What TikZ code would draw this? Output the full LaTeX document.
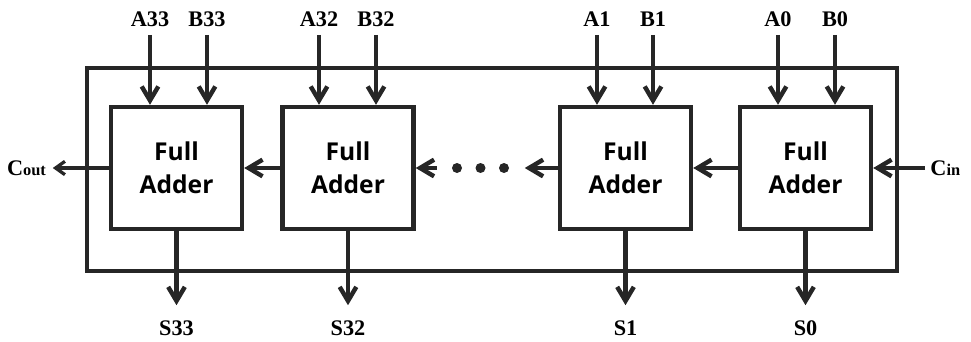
\documentclass[tikz,border=0pt]{standalone}
\usepackage{fontspec}
\setmainfont{Liberation Serif}
\newfontfamily\fafont{Open Sans}
\usetikzlibrary{arrows.meta}
\definecolor{ink}{HTML}{262626}
\begin{document}
\begin{tikzpicture}[x=.3cm,y=.3cm,
 wire/.style={draw=ink,line width=3.8pt},
 fa/.style={wire,minimum width=3.93cm,minimum height=3.66cm,align=center,
  font=\fafont\bfseries\fontsize{21}{28}\selectfont},
 lbl/.style={font=\bfseries\fontsize{19}{21}\selectfont,inner sep=2.5mm},
 dot/.style={circle,fill=ink,inner sep=0pt,minimum size=3mm},
 barb/.style={-{Straight Barb[length=4.2mm,width=5mm]}}]
 \useasboundingbox (0,0) rectangle (97.1,34.1);
 \draw[wire] (8.7,7) rectangle (89.7,27.3);
 \path
 (17.65,17.3) node[fa] (fa33) {Full\\Adder} % <<< adders
 ++(17.15,0) node[fa] (fa32) {Full\\Adder}
 ++(27.75,0) node[fa] (fa1) {Full\\Adder}
 ++(18,0) node[fa] (fa0) {Full\\Adder};
 \path
 (15,30.6) node[lbl,anchor=south] (a33) {A33} % <<< inputs
 ++(5.7,0) node[lbl,anchor=south] (b33) {B33}
 ++(11.2,0) node[lbl,anchor=south] (a32) {A32}
 ++(5.7,0) node[lbl,anchor=south] (b32) {B32}
 ++(22.1,0) node[lbl,anchor=south] (a1) {A1}
 ++(5.6,0) node[lbl,anchor=south] (b1) {B1}
 ++(12.5,0) node[lbl,anchor=south] (a0) {A0}
 ++(5.7,0) node[lbl,anchor=south] (b0) {B0};
 \path[lbl,inner sep=4.5mm]
 (fa33.south) ++(0,-7.4) node[anchor=north] (s33) {S33} % <<< outputs
 (fa32.south) ++(0,-7.4) node[anchor=north] (s32) {S32}
 (fa1.south) ++(0,-7.4) node[anchor=north] (s1) {S1}
 (fa0.south) ++(0,-7.4) node[anchor=north] (s0) {S0};
 \path
 (fa33.west) ++(-5.6,0) node[anchor=east,inner sep=2mm] (cout)
  {\bfseries\fontsize{19}{21}\selectfont C\fontsize{14}{15}\selectfont out}
 (fa0.east) ++(5.2,0) node[anchor=west,inner sep=1.5mm] (cin)
  {\bfseries\fontsize{19}{21}\selectfont C\fontsize{14}{15}\selectfont in}
 (fa32.east) ++(2.1,0) coordinate (dl)
 (fa1.west) ++(-3.3,0) coordinate (dr)
 (45.7,17.3) node[dot] (d1) {}
 ++(2.35,0) node[dot] (d2) {}
 ++(2.35,0) node[dot] (d3) {};
 \begin{scope}[wire,barb]
 \draw (a33) -- (a33 |- fa33.north);
 \draw (b33) -- (b33 |- fa33.north);
 \draw (a32) -- (a32 |- fa32.north);
 \draw (b32) -- (b32 |- fa32.north);
 \draw (a1) -- (a1 |- fa1.north);
 \draw (b1) -- (b1 |- fa1.north);
 \draw (a0) -- (a0 |- fa0.north);
 \draw (b0) -- (b0 |- fa0.north);
 \draw (fa33) -- (s33);
 \draw (fa32) -- (s32);
 \draw (fa1) -- (s1);
 \draw (fa0) -- (s0);
 \draw (cin) -- (fa0);
 \draw (fa0) -- (fa1);
 \draw (fa1) -- (dr);
 \draw (dl) -- (fa32);
 \draw (fa32) -- (fa33);
 \end{scope}
 \draw[draw=ink,line width=2.8pt,-{Straight Barb[length=2.8mm,width=4mm]}]
  (fa33) -- (cout);
\end{tikzpicture}
\end{document}
